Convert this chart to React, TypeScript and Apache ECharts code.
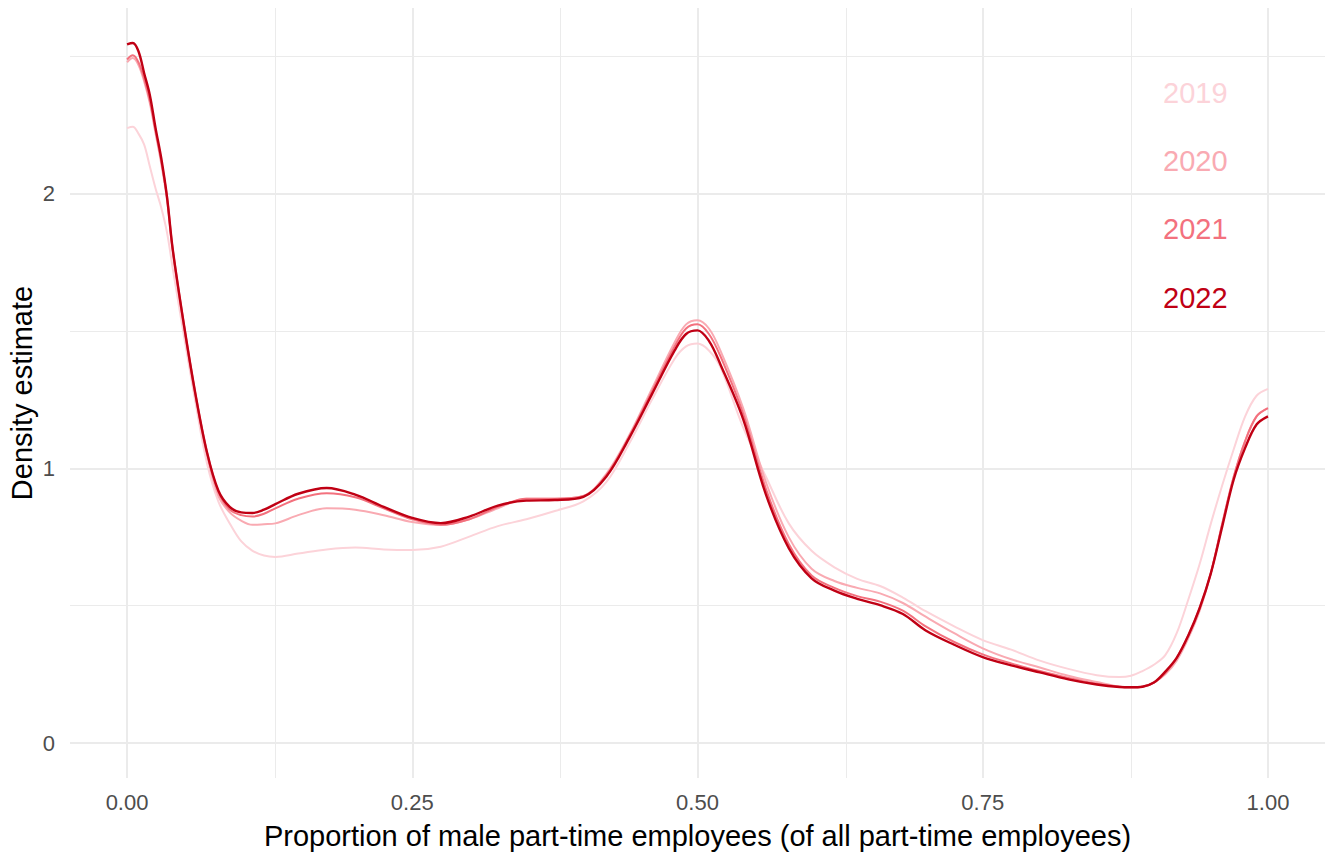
import React, { useEffect, useRef } from "react";
import * as echarts from "echarts";

const xs = [0, 0.005, 0.01, 0.015, 0.02, 0.025, 0.03, 0.035, 0.04, 0.05, 0.06, 0.07, 0.08, 0.09, 0.1, 0.11, 0.12, 0.13, 0.15, 0.175, 0.2, 0.225, 0.25, 0.275, 0.3, 0.325, 0.35, 0.375, 0.4, 0.42, 0.44, 0.46, 0.48, 0.49, 0.5, 0.51, 0.52, 0.54, 0.56, 0.58, 0.6, 0.62, 0.64, 0.66, 0.68, 0.7, 0.725, 0.75, 0.775, 0.8, 0.825, 0.85, 0.87, 0.88, 0.89, 0.9, 0.91, 0.92, 0.93, 0.94, 0.95, 0.96, 0.97, 0.98, 0.99, 1.0];

const y2019 = [2.24, 2.245, 2.22, 2.18, 2.1, 2.02, 1.95, 1.86, 1.73, 1.48, 1.24, 1.02, 0.88, 0.8, 0.735, 0.7, 0.683, 0.678, 0.69, 0.705, 0.712, 0.705, 0.703, 0.715, 0.752, 0.79, 0.815, 0.845, 0.88, 0.95, 1.09, 1.25, 1.4, 1.445, 1.455, 1.43, 1.37, 1.15, 0.97, 0.8, 0.7, 0.64, 0.598, 0.572, 0.53, 0.48, 0.425, 0.375, 0.34, 0.3, 0.27, 0.247, 0.24, 0.245, 0.262, 0.285, 0.32, 0.4, 0.52, 0.65, 0.8, 0.94, 1.07, 1.19, 1.265, 1.29];

const y2020 = [2.48, 2.495, 2.47, 2.41, 2.33, 2.22, 2.11, 1.98, 1.79, 1.51, 1.26, 1.05, 0.9, 0.84, 0.81, 0.795, 0.797, 0.8, 0.83, 0.855, 0.85, 0.83, 0.805, 0.794, 0.815, 0.855, 0.89, 0.89, 0.9, 0.98, 1.12, 1.29, 1.46, 1.525, 1.54, 1.51, 1.43, 1.22, 0.95, 0.75, 0.635, 0.59, 0.565, 0.545, 0.51, 0.46, 0.4, 0.345, 0.305, 0.275, 0.245, 0.222, 0.205, 0.203, 0.205, 0.22, 0.25, 0.3, 0.38, 0.48, 0.62, 0.8, 0.97, 1.1, 1.19, 1.22];

const y2021 = [2.49, 2.505, 2.48, 2.42, 2.34, 2.23, 2.12, 1.99, 1.8, 1.52, 1.27, 1.06, 0.915, 0.85, 0.83, 0.825, 0.835, 0.855, 0.89, 0.91, 0.895, 0.855, 0.815, 0.795, 0.815, 0.86, 0.89, 0.89, 0.9, 0.975, 1.115, 1.28, 1.445, 1.51, 1.525, 1.49, 1.41, 1.2, 0.925, 0.725, 0.61, 0.565, 0.535, 0.515, 0.482, 0.425, 0.368, 0.323, 0.29, 0.262, 0.237, 0.216, 0.205, 0.203, 0.205, 0.22, 0.255, 0.31, 0.39, 0.49, 0.62, 0.8, 0.97, 1.1, 1.19, 1.22];

const y2022 = [2.545, 2.55, 2.52, 2.44, 2.36, 2.24, 2.13, 1.99, 1.8, 1.52, 1.27, 1.06, 0.92, 0.86, 0.84, 0.838, 0.85, 0.87, 0.908, 0.929, 0.905, 0.86, 0.82, 0.801, 0.825, 0.865, 0.883, 0.885, 0.897, 0.97, 1.11, 1.27, 1.43, 1.49, 1.503, 1.465, 1.38, 1.18, 0.905, 0.71, 0.6, 0.555, 0.525, 0.502, 0.47, 0.41, 0.358, 0.313, 0.283, 0.257, 0.232, 0.213, 0.204, 0.203, 0.205, 0.22, 0.26, 0.31, 0.39, 0.49, 0.619, 0.79, 0.96, 1.075, 1.16, 1.19];

const years = ["2019", "2020", "2021", "2022"];
const colors = ["#fcd3d9", "#f9aab2", "#f3717e", "#c00014"];
const labelYs = [2.368, 2.12, 1.872, 1.62];

const xMajor = [0, 0.25, 0.5, 0.75, 1];
const xMinor = [0.125, 0.375, 0.625, 0.875];
const yMajor = [0, 1, 2];
const yMinor = [0.5, 1.5, 2.5];

const X_MIN = -0.05;
const X_MAX = 1.05;
const Y_MIN = -0.1275;
const Y_MAX = 2.6775;

const FONT = "'Liberation Sans', Arial, sans-serif";

export default function App() {
  const ref = useRef<HTMLDivElement>(null);

  useEffect(() => {
    if (!ref.current) return;
    const chart = echarts.init(ref.current, null, { renderer: "svg" });
    const W = 1327;
    const H = 857;
    const gridLeft = 70;
    const gridRight = 2;
    const gridTop = 8;
    const gridBottom = 79;

    const allY = [y2019, y2020, y2021, y2022];
    const lineSeries = allY.map((ys, i) => ({
      type: "line",
      name: years[i],
      data: xs.map((x, j) => [x, ys[j]]),
      showSymbol: false,
      smooth: 0.35,
      lineStyle: { color: colors[i], width: i === 3 ? 2.4 : 2 },
      itemStyle: { color: colors[i] },
      z: 5 + i,
      silent: true,
    }));

    const gridSeries = (xv: number[], yv: number[], width: number) => ({
      type: "line",
      data: [],
      silent: true,
      z: 1,
      markLine: {
        silent: true,
        symbol: ["none", "none"],
        label: { show: false },
        animation: false,
        lineStyle: { color: "#ebebeb", width, type: "solid" },
        data: [
          ...xv.map((v) => ({ xAxis: v })),
          ...yv.map((v) => ({ yAxis: v })),
        ],
      },
    });

    const plotW = W - gridLeft - gridRight;
    const plotH = H - gridTop - gridBottom;
    const yToPx = (v: number) => gridTop + (Y_MAX - v) / (Y_MAX - Y_MIN) * plotH;

    chart.setOption({
      animation: false,
      backgroundColor: "#ffffff",
      textStyle: { fontFamily: FONT },
      grid: { left: gridLeft, right: gridRight, top: gridTop, bottom: gridBottom, containLabel: false },
      xAxis: {
        type: "value",
        min: X_MIN,
        max: X_MAX,
        axisLine: { show: false },
        axisTick: { show: false },
        splitLine: { show: false },
        axisLabel: {
          customValues: xMajor,
          formatter: (v: number) => v.toFixed(2),
          fontSize: 22,
          color: "#4d4d4d",
          margin: 13,
          fontFamily: FONT,
        },
      },
      yAxis: {
        type: "value",
        min: Y_MIN,
        max: Y_MAX,
        axisLine: { show: false },
        axisTick: { show: false },
        splitLine: { show: false },
        axisLabel: {
          customValues: yMajor,
          formatter: (v: number) => String(v),
          fontSize: 22,
          color: "#4d4d4d",
          margin: 15,
          fontFamily: FONT,
        },
      },
      graphic: [
        {
          type: "text",
          x: gridLeft + plotW / 2,
          y: 836,
          style: {
            text: "Proportion of male part-time employees (of all part-time employees)",
            fontSize: 29,
            fill: "#000000",
            fontFamily: FONT,
            align: "center",
            verticalAlign: "middle",
          },
        },
        {
          type: "text",
          x: 22,
          y: gridTop + plotH / 2,
          rotation: Math.PI / 2,
          style: {
            text: "Density estimate",
            fontSize: 29,
            fill: "#000000",
            fontFamily: FONT,
            align: "center",
            verticalAlign: "middle",
          },
        },
        ...years.map((yr, i) => ({
          type: "text",
          x: 1163,
          y: yToPx(labelYs[i]),
          style: {
            text: yr,
            fontSize: 29,
            fill: colors[i],
            fontFamily: FONT,
            align: "left",
            verticalAlign: "middle",
          },
        })),
      ],
      series: [
        gridSeries(xMinor, yMinor, 1),
        gridSeries(xMajor, yMajor, 2),
        ...lineSeries,
      ],
    });

    return () => chart.dispose();
  }, []);

  return (
    <div
      ref={ref}
      style={{ position: "absolute", left: 0, top: 0, width: 1327, height: 857, background: "#fff" }}
    />
  );
}
